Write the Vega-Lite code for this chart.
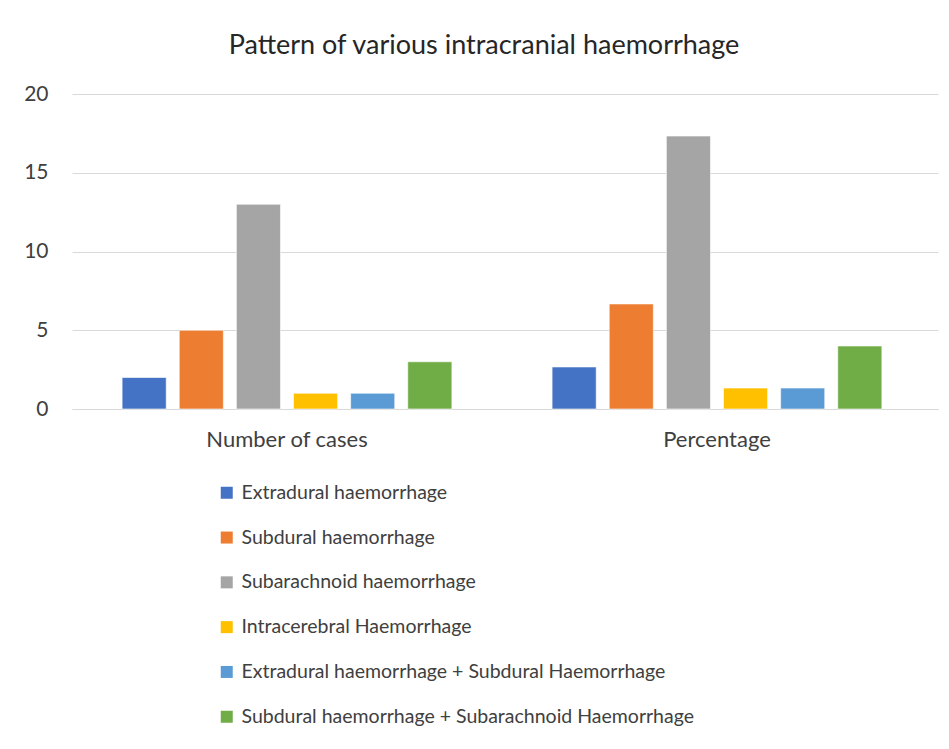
{
  "$schema": "https://vega.github.io/schema/vega-lite/v6.json",
  "width": 866,
  "height": 315,
  "autosize": {"type": "none"},
  "padding": {"left": 72, "top": 94, "right": 11, "bottom": 340},
  "background": "white",
  "title": {
    "text": "Pattern of various intracranial haemorrhage",
    "font": "Lato",
    "fontSize": 27,
    "fontWeight": "normal",
    "color": "#262626",
    "anchor": "middle",
    "dx": -21,
    "offset": 23
  },
  "data": {
    "values": [
      {"category": "Number of cases", "type": "Extradural haemorrhage", "value": 2},
      {"category": "Number of cases", "type": "Subdural haemorrhage", "value": 5},
      {"category": "Number of cases", "type": "Subarachnoid haemorrhage", "value": 13},
      {"category": "Number of cases", "type": "Intracerebral Haemorrhage", "value": 1},
      {"category": "Number of cases", "type": "Extradural haemorrhage + Subdural Haemorrhage", "value": 1},
      {"category": "Number of cases", "type": "Subdural haemorrhage + Subarachnoid Haemorrhage", "value": 3},
      {"category": "Percentage", "type": "Extradural haemorrhage", "value": 2.67},
      {"category": "Percentage", "type": "Subdural haemorrhage", "value": 6.67},
      {"category": "Percentage", "type": "Subarachnoid haemorrhage", "value": 17.33},
      {"category": "Percentage", "type": "Intracerebral Haemorrhage", "value": 1.33},
      {"category": "Percentage", "type": "Extradural haemorrhage + Subdural Haemorrhage", "value": 1.33},
      {"category": "Percentage", "type": "Subdural haemorrhage + Subarachnoid Haemorrhage", "value": 4}
    ]
  },
  "mark": {"type": "bar", "stroke": "white", "strokeWidth": 0.6},
  "encoding": {
    "x": {
      "field": "category",
      "type": "nominal",
      "sort": null,
      "scale": {"paddingInner": 0, "paddingOuter": 0.007, "align": 0},
      "axis": {
        "title": null,
        "labelAngle": 0,
        "labelFont": "Lato",
        "labelFontSize": 22,
        "labelColor": "#404040",
        "labelPadding": 20,
        "ticks": false,
        "domainColor": "#d9d9d9",
        "domainWidth": 1
      }
    },
    "xOffset": {
      "field": "type",
      "type": "nominal",
      "sort": null,
      "scale": {"paddingInner": 0.228, "paddingOuter": 0.877}
    },
    "y": {
      "field": "value",
      "type": "quantitative",
      "scale": {"domain": [0, 20]},
      "axis": {
        "title": null,
        "values": [0, 5, 10, 15, 20],
        "labelFont": "Lato",
        "labelFontSize": 21,
        "labelColor": "#404040",
        "labelPadding": 24,
        "ticks": false,
        "domain": false,
        "gridColor": "#d9d9d9",
        "gridWidth": 1
      }
    },
    "color": {
      "field": "type",
      "type": "nominal",
      "sort": null,
      "scale": {
        "domain": [
          "Extradural haemorrhage",
          "Subdural haemorrhage",
          "Subarachnoid haemorrhage",
          "Intracerebral Haemorrhage",
          "Extradural haemorrhage + Subdural Haemorrhage",
          "Subdural haemorrhage + Subarachnoid Haemorrhage"
        ],
        "range": ["#4472C4", "#ED7D31", "#A5A5A5", "#FFC000", "#5B9BD5", "#70AD47"]
      },
      "legend": {
        "title": null,
        "orient": "none",
        "legendX": 145,
        "legendY": 389,
        "direction": "vertical",
        "symbolType": "square",
        "symbolSize": 144,
        "symbolStrokeWidth": 0,
        "labelFont": "Lato",
        "labelFontSize": 19.5,
        "labelColor": "#404040",
        "labelLimit": 750,
        "rowPadding": 23.8,
        "labelOffset": 5
      }
    }
  },
  "config": {"view": {"stroke": null}}
}
